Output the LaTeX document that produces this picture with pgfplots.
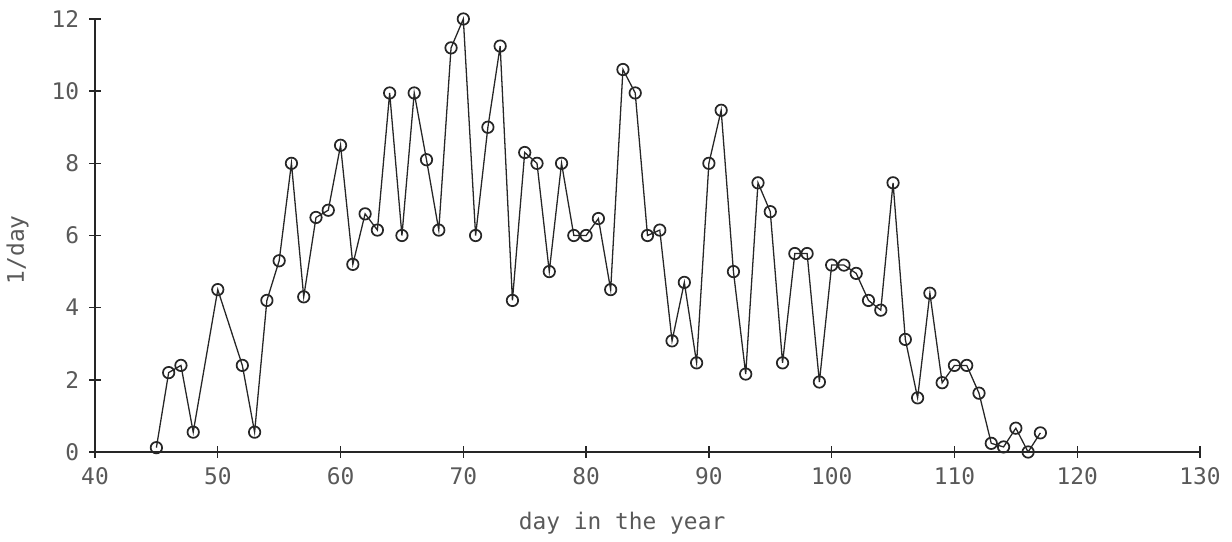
\documentclass[border=0pt]{standalone}
\usepackage{fontspec}
\setmainfont{DejaVu Sans Mono}
\usepackage{pgfplots}
\pgfplotsset{compat=1.18}

\begin{document}
\begin{tikzpicture}
\begin{axis}[
    scale only axis,
    width=386.75pt, height=151.55pt,
    xmin=40, xmax=130, ymin=0, ymax=12,
    axis x line=bottom, axis y line=left,
    axis line style={-, line width=0.6pt, black!85},
    tick align=center, major tick length=4pt,
    tick style={black!85, line width=0.5pt},
    xtick={40,50,...,130}, ytick={0,2,...,12},
    /pgf/number format/assume math mode=true,
    tick label style={font=\footnotesize, text=black!65},
    label style={font=\footnotesize, text=black!65},
    xlabel={day in the year}, ylabel={1/day},
    xlabel style={at={(axis description cs:0.477,-0.164)}, anchor=center},
    ylabel style={at={(axis description cs:-0.07,0.467)}, anchor=center},
    clip=false,
]
% day of year, rate (1/day)
\addplot[black!85, line width=0.45pt, mark=o, mark size=2pt,
         mark options={line width=0.6pt}] coordinates {
 (45,0.12) (46,2.2) (47,2.4) (48,0.55) (50,4.5) (52,2.4) (53,0.55)
 (54,4.2) (55,5.3) (56,8.0) (57,4.3) (58,6.5) (59,6.7) (60,8.5)
 (61,5.2) (62,6.6) (63,6.15) (64,9.95) (65,6.0) (66,9.95) (67,8.1)
 (68,6.15) (69,11.2) (70,12.0) (71,6.0) (72,9.0) (73,11.25) (74,4.2)
 (75,8.3) (76,8.0) (77,5.0) (78,8.0) (79,6.0) (80,6.0) (81,6.47)
 (82,4.5) (83,10.6) (84,9.95) (85,6.0) (86,6.15) (87,3.08) (88,4.7)
 (89,2.47) (90,8.0) (91,9.47) (92,5.0) (93,2.16) (94,7.46) (95,6.66)
 (96,2.47) (97,5.5) (98,5.5) (99,1.94) (100,5.18) (101,5.18) (102,4.95)
 (103,4.2) (104,3.93) (105,7.46) (106,3.12) (107,1.5) (108,4.4)
 (109,1.92) (110,2.4) (111,2.4) (112,1.63) (113,0.24) (114,0.14)
 (115,0.66) (116,0.0) (117,0.53)
};
\coordinate (bl) at (rel axis cs:0,0);
\coordinate (tr) at (rel axis cs:1,1);
\end{axis}
\pgfresetboundingbox
\path[use as bounding box] ([xshift=-33.25pt,yshift=-31.5pt]bl) rectangle ([xshift=11.2pt,yshift=6.65pt]tr);
\end{tikzpicture}
\end{document}
